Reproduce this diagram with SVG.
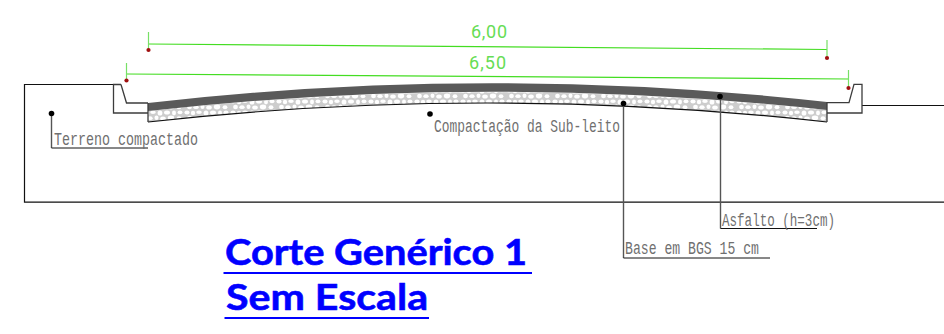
<svg xmlns="http://www.w3.org/2000/svg" width="944" height="334" viewBox="0 0 944 334">
<style>
.g{fill:none;stroke:#3c3c3c;stroke-width:1.3}
.k{fill:none;stroke:#111;stroke-width:1.2}
.l{fill:none;stroke:#555;stroke-width:1.4}
.u{fill:none;stroke:#111;stroke-width:1}
.d{fill:none;stroke:#44dd22;stroke-width:1.2}
.t{stroke:#77e066;stroke-width:1.2}
.r{fill:#a01010}
.b{fill:#000}
.lab{font-family:"Liberation Mono",monospace;font-size:18px;fill:#707070}
.dim{font-family:"Roboto","Liberation Sans",sans-serif;font-weight:400;font-size:18px;fill:#66dd55}
.ttl{font-family:"Lato","Liberation Sans",sans-serif;font-weight:700;font-size:37px;fill:#0000ff;stroke:#0000ff;stroke-width:.6}
.ul{stroke:#0000ff;stroke-width:2;fill:none}
</style>
<defs>
<pattern id="gravel" width="46" height="11" patternUnits="userSpaceOnUse">
<rect width="46" height="11" fill="#cdcdcd"/>
<ellipse cx="3" cy="2.500" rx="2.600" ry="2" fill="#fff"/>
<ellipse cx="9" cy="3" rx="2.200" ry="2.300" fill="#fff"/>
<ellipse cx="15" cy="2.200" rx="2.800" ry="1.800" fill="#fff"/>
<ellipse cx="22" cy="3" rx="2.400" ry="2.600" fill="#fff"/>
<ellipse cx="29" cy="2.500" rx="3" ry="2" fill="#fff"/>
<ellipse cx="36" cy="3" rx="2" ry="2.400" fill="#fff"/>
<ellipse cx="42" cy="2.400" rx="2.500" ry="1.800" fill="#fff"/>
<ellipse cx="5.500" cy="8" rx="2.400" ry="2.200" fill="#fff"/>
<ellipse cx="12" cy="8.200" rx="2.700" ry="1.900" fill="#fff"/>
<ellipse cx="18.500" cy="7.800" rx="2" ry="2.300" fill="#fff"/>
<ellipse cx="25" cy="8.400" rx="2.800" ry="2" fill="#fff"/>
<ellipse cx="33" cy="8" rx="3.200" ry="2.400" fill="#fff"/>
<ellipse cx="41" cy="8.300" rx="2.400" ry="2" fill="#fff"/>
</pattern>
</defs>
<rect width="944" height="334" fill="#fff"/>
<g id="terrain">
<path class="k" d="M113.500 84.500H24.500V202.200H944"/>
<path class="k" d="M862 105.500H944"/>
</g>
<g id="left-curb">
<path class="g" d="M121 84.500H113.500V113H148M121 84.500L126.500 103H148"/>
</g>
<g id="right-curb">
<path class="g" d="M827 102.700H849L854 84.300H862V113H827"/>
</g>
<g id="pavement">
<path d="M148 111Q487 74 827 110V122Q487 84 148 122Z" fill="url(#gravel)"/>
<path d="M148 103Q487 64 827 102V110Q487 73 148 111Z" fill="#5a5a5a"/>
<path class="k" d="M148 122Q487 84 827 122"/>
<path class="g" d="M148 103V122M827 102V122"/>
</g>
<g id="connectors">
<path class="d" d="M148.500 44L827 49.500"/>
<path class="d" d="M126.500 74L849 79"/>
<path class="t" d="M148.500 32V50M827 40V58M126.500 63V81M848.500 70V88"/>
<path class="l" d="M51.500 113V148"/>
<path class="u" d="M51.500 148H148"/>
<path class="l" d="M623.500 103V258"/>
<path class="u" d="M623.500 258H770"/>
<path class="l" d="M720.500 96.500V228.500"/>
<path class="u" d="M720.500 228.500H817"/>
</g>
<g id="dim-6-00">
<circle class="r" cx="148.500" cy="50" r="2.100"/>
<circle class="r" cx="827" cy="58" r="2.100"/>
<text class="dim" x="471" y="38" textLength="36" lengthAdjust="spacing">6,00</text>
</g>
<g id="dim-6-50">
<circle class="r" cx="126.500" cy="80.500" r="2.100"/>
<circle class="r" cx="848.500" cy="88" r="2.100"/>
<text class="dim" x="469" y="69" textLength="37" lengthAdjust="spacing">6,50</text>
</g>
<g id="label-terreno">
<circle class="b" cx="51.500" cy="113.500" r="2.800"/>
<text class="lab" x="54" y="145" textLength="144" lengthAdjust="spacingAndGlyphs">Terreno compactado</text>
</g>
<g id="label-sub-leito">
<circle class="b" cx="430" cy="114" r="2.800"/>
<text class="lab" x="434" y="132" textLength="186" lengthAdjust="spacingAndGlyphs">Compactação da Sub-leito</text>
</g>
<g id="label-base">
<circle class="b" cx="623.500" cy="103.500" r="2.800"/>
<text class="lab" x="625" y="254" textLength="134" lengthAdjust="spacingAndGlyphs">Base em BGS 15 cm</text>
</g>
<g id="label-asfalto">
<circle class="b" cx="720" cy="96.500" r="2.800"/>
<text class="lab" x="722" y="226" textLength="113" lengthAdjust="spacingAndGlyphs">Asfalto (h=3cm)</text>
</g>
<g id="title">
<text class="ttl" x="225" y="265" textLength="302" lengthAdjust="spacingAndGlyphs">Corte Genérico 1</text>
<path class="ul" d="M223.500 273H532"/>
<text class="ttl" x="226" y="310" textLength="202" lengthAdjust="spacingAndGlyphs">Sem Escala</text>
<path class="ul" d="M224.500 318H429"/>
</g>
</svg>
